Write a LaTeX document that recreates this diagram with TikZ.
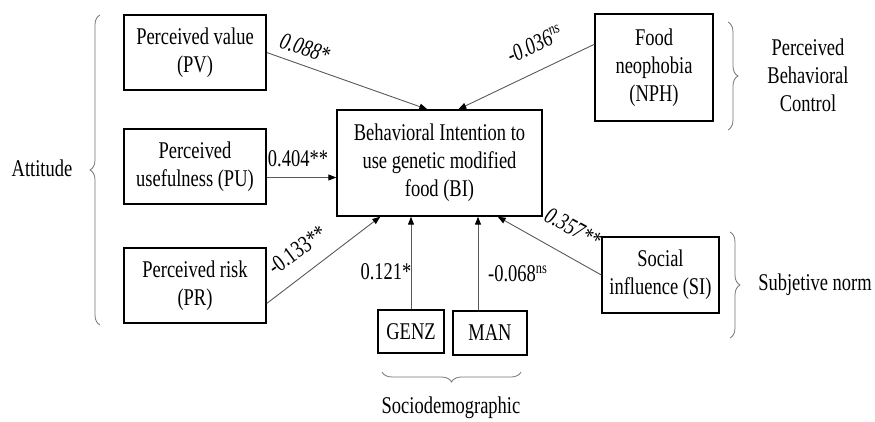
\documentclass[tikz,border=0pt]{standalone}
\usepackage{fontspec}
\setmainfont{Liberation Serif}[FakeStretch=0.77]
\usetikzlibrary{positioning}
\usetikzlibrary{arrows.meta}
\usetikzlibrary{calc}
\usetikzlibrary{decorations.pathreplacing}

\begin{document}
\begin{tikzpicture}[
  x=0.5pt, y=-0.5pt,
  font=\fontsize{12}{14}\selectfont,
  box/.style={draw, line width=0.7pt, align=center, inner sep=2pt},
  lat/.style={box, minimum width=71pt, minimum height=37.5pt},
  arrow/.style={-{Triangle[length=4pt,width=3pt,color=black]}, draw=black!65, line width=0.45pt},
  coef/.style={inner sep=1pt},
  brc/.style={decorate, decoration={brace, amplitude=5pt}, draw=black!55, line width=0.4pt},
  grp/.style={align=center}
]
\useasboundingbox (0,0) rectangle (875,422);

\node[lat] (PV) at (195,52.5) {Perceived value\\(PV)};
\node[lat] (PU) at (195,166.5) {Perceived\\usefulness (PU)};
\node[lat] (PR) at (195,285.5) {Perceived risk\\(PR)};
\node[box, minimum width=102.5pt, minimum height=53pt] (BI) at (439.5,163) {Behavioral Intention to\\use genetic modified\\food (BI)};
\node[box, minimum width=59pt, minimum height=53.5pt] (NPH) at (654,67.5) {Food\\neophobia\\(NPH)};
\node[box, minimum width=58.5pt, minimum height=38pt] (SI) at (660.5,275) {Social\\influence (SI)};
\node[box, minimum width=33pt, minimum height=21.5pt] (GENZ) at (411,331.5) {GENZ};
\node[box, minimum width=37pt, minimum height=22pt] (MAN) at (490,333) {MAN};

\coordinate (puOut) at ($(PU.east)+(0,11)$);
\coordinate (manOut) at ($(MAN.north)+(-12,0)$);
\draw[arrow] (PV.east) -- ($(BI.north west)+(91,0)$);
\draw[arrow] (puOut) -- (BI.west |- puOut);
\draw[arrow] ($(PR.east)+(0,18)$) -- ($(BI.south west)+(44,0)$);
\draw[arrow] (GENZ.north) -- (GENZ.north |- BI.south);
\draw[arrow] (manOut) -- (manOut |- BI.south);
\draw[arrow] (SI.west) -- ($(BI.south east)+(-45,0)$);
\draw[arrow] ($(NPH.north west)+(0,31)$) -- ($(BI.north west)+(122,0)$);

\node[coef, rotate=-19] (cPV) at (305,48) {\textit{0.088*}};
\node[coef] (cPU) at (298,159) {0.404**};
\node[coef, rotate=36] (cPR) at (297,250) {-0.133**};
\node[coef] (cGENZ) at (386,272) {0.121*};
\node[coef] (cMAN) at (518,274) {-0.068\textsuperscript{ns}};
\node[coef, rotate=-29] (cSI) at (573,228) {\textit{0.357**}};
\node[coef, rotate=25] (cNPH) at (535,44) {\textit{-0.036\textsuperscript{ns}}};

\coordinate (attB) at (100,325);
\coordinate (attT) at (100,15);
\coordinate (pbcT) at (728,22);
\coordinate (pbcB) at (728,130);
\coordinate (snT) at (730,232);
\coordinate (snB) at (730,338);
\coordinate (sdR) at (521,372);
\coordinate (sdL) at (382,372);
\draw[brc] (attB) -- (attT);
\draw[brc] (pbcT) -- (pbcB);
\draw[brc] (snT) -- (snB);
\draw[brc] (sdR) -- (sdL);

\node[grp] (att) at (42,168) {Attitude};
\node[grp] (pbc) at (808,75) {Perceived\\Behavioral\\Control};
\node[grp] (sn) at (815,285) {Subjetive norm};
\node[grp] (sd) at (451,408) {Sociodemographic};

\end{tikzpicture}
\end{document}
